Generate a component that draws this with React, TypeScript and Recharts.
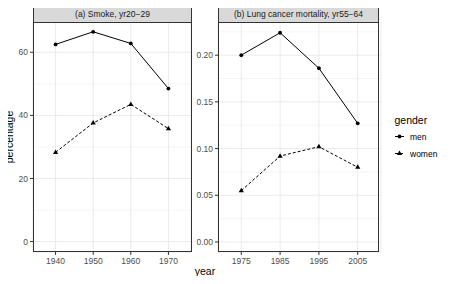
import { LineChart, Line, XAxis, YAxis, CartesianGrid } from 'recharts'

const smokeYears = [1940, 1950, 1960, 1970]
const smokeMen = [62.5, 66.5, 62.8, 48.5]
const smokeWomen = [28.3, 37.6, 43.5, 35.8]
const smokeTicks = [0, 20, 40, 60]
const smokeMinor = [10, 30, 50]

const lungYears = [1975, 1985, 1995, 2005]
const lungMen = [0.2, 0.224, 0.186, 0.127]
const lungWomen = [0.055, 0.092, 0.102, 0.08]
const lungTicks = [0, 0.05, 0.1, 0.15, 0.2]
const lungMinor = [0.025, 0.075, 0.125, 0.175, 0.225]

const FONT = '"Liberation Sans", Arial, sans-serif'
const tickStyle = { fill: '#4d4d4d', fontSize: 8.5, fontFamily: FONT }

const smokeData = smokeYears.map((year, i) => ({ year, men: smokeMen[i], women: smokeWomen[i] }))
const lungData = lungYears.map((year, i) => ({ year, men: lungMen[i], women: lungWomen[i] }))

const Triangle = (props: any) => {
  const { cx, cy, index } = props
  if (cx == null || cy == null) return <g key={index} />
  return <path key={index} d={`M${cx},${cy - 2.9} L${cx + 2.6},${cy + 1.6} L${cx - 2.6},${cy + 1.6} Z`} fill="#000" />
}

function Panel({ data, xDomain, xTicks, yDomain, yTicks, minor, yWidth, fmt }: any) {
  return (
    <LineChart width={200} height={284} data={data} margin={{ top: 22, right: 9, bottom: 12, left: 0 }}>
      <CartesianGrid horizontalValues={minor} vertical={false} stroke="#ebebeb" strokeWidth={0.5} fill="none" />
      <CartesianGrid stroke="#ebebeb" strokeWidth={1} fill="none" />
      <XAxis
        dataKey="year"
        type="number"
        domain={xDomain}
        ticks={xTicks}
        allowDataOverflow
        axisLine={false}
        tickLine={{ stroke: '#333' }}
        tickSize={3}
        tickMargin={3}
        height={20}
        tick={tickStyle}
      />
      <YAxis
        type="number"
        domain={yDomain}
        ticks={yTicks}
        allowDataOverflow
        axisLine={false}
        tickLine={{ stroke: '#333' }}
        tickSize={3}
        tickMargin={2}
        width={yWidth}
        tick={tickStyle}
        tickFormatter={fmt}
      />
      <Line dataKey="men" stroke="#000" strokeWidth={1} isAnimationActive={false}
        dot={{ r: 1.9, fill: '#000', stroke: 'none' }} />
      <Line dataKey="women" stroke="#000" strokeWidth={1} strokeDasharray="3 2" isAnimationActive={false}
        dot={Triangle} />
    </LineChart>
  )
}

export default function App() {
  return (
    <div style={{ position: 'relative', width: 454, height: 284, margin: -8, fontFamily: FONT, background: '#fff' }}>
      <div style={{ position: 'absolute', left: 0, top: 0 }}>
        <Panel data={smokeData} xDomain={[1934, 1976]} xTicks={smokeYears} yDomain={[-3.3, 69.6]}
          yTicks={smokeTicks} minor={smokeMinor} yWidth={33} fmt={(v: number) => String(v)} />
      </div>
      <div style={{ position: 'absolute', left: 190, top: 0 }}>
        <Panel data={lungData} xDomain={[1969, 2011]} xTicks={lungYears} yDomain={[-0.0107, 0.2355]}
          yTicks={lungTicks} minor={lungMinor} yWidth={28} fmt={(v: number) => v.toFixed(2)} />
      </div>
      <svg width={454} height={284} fontFamily={FONT}
        style={{ position: 'absolute', left: 0, top: 0, pointerEvents: 'none', fontFamily: FONT }}>
        <rect x={33.5} y={22.5} width={158} height={229} fill="none" stroke="#333" />
        <rect x={218.5} y={22.5} width={160} height={229} fill="none" stroke="#333" />
        <rect x={33.5} y={4.5} width={158} height={18} fill="#d9d9d9" stroke="#333" />
        <rect x={218.5} y={4.5} width={160} height={18} fill="#d9d9d9" stroke="#333" />
        <text x={112.5} y={17} textAnchor="middle" fontSize={8.5} fill="#1a1a1a">(a) Smoke, yr20−29</text>
        <text x={298.5} y={17} textAnchor="middle" fontSize={8.5} fill="#1a1a1a">(b) Lung cancer mortality, yr55−64</text>
        <text x={205} y={275} textAnchor="middle" fontSize={10.5} fill="#000">year</text>
        <text transform="translate(13,137) rotate(-90)" textAnchor="middle" fontSize={10.5} fill="#000">percentage</text>
        <text x={394.5} y={124} fontSize={10.5} fill="#000">gender</text>
        <line x1={395} x2={404} y1={136.5} y2={136.5} stroke="#000" />
        <circle cx={399.5} cy={136.5} r={1.9} fill="#000" />
        <text x={410} y={139.5} fontSize={8.5} fill="#000">men</text>
        <line x1={395} x2={404} y1={153.5} y2={153.5} stroke="#000" strokeDasharray="3 2" />
        <path d="M399.5,150.6 L402.1,155.1 L396.9,155.1 Z" fill="#000" />
        <text x={410} y={156.5} fontSize={8.5} fill="#000">women</text>
      </svg>
    </div>
  )
}
